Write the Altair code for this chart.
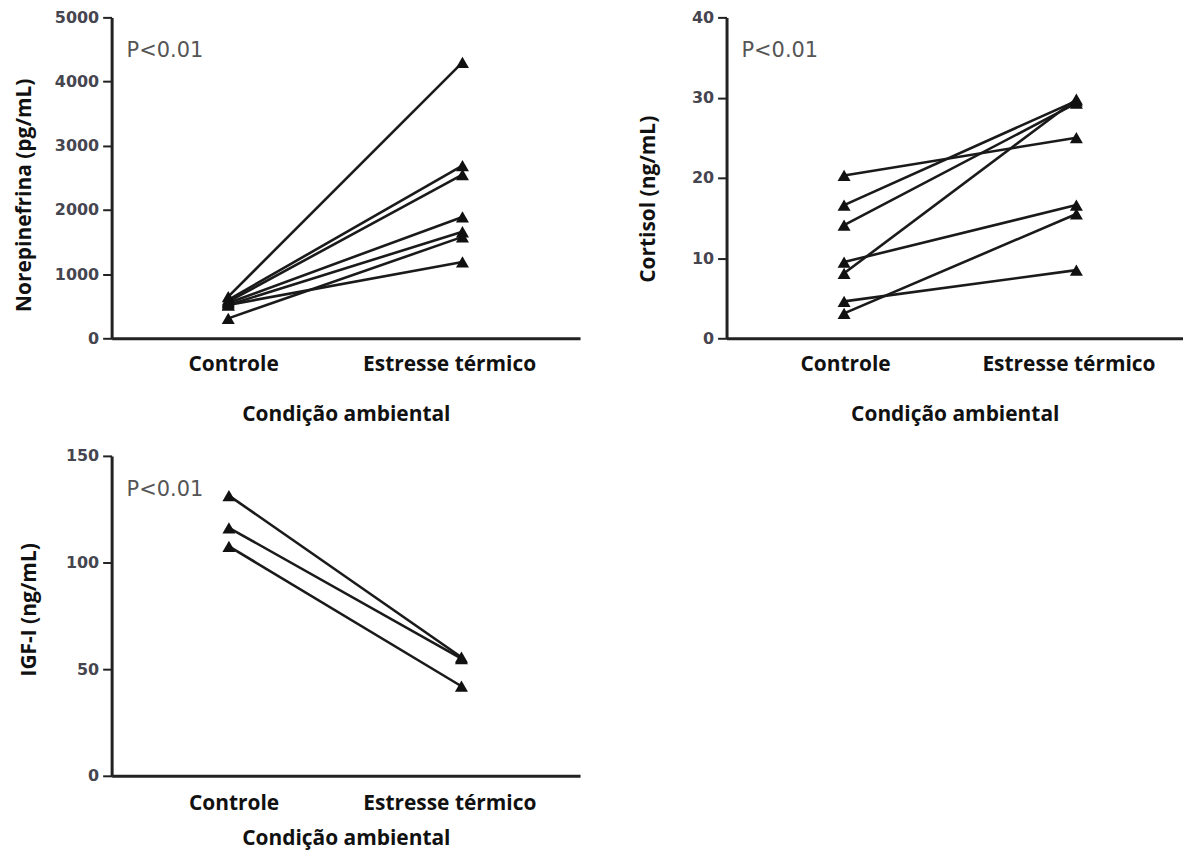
import altair as alt
import pandas as pd

cats = ["Controle", "Estresse térmico"]
x_title = "Condição ambiental"
p_label = ["P<0.01"]

# Norepinefrina (pg/mL), one value per animal
nor_ctrl = [650, 600, 570, 550, 520, 310, 520]
nor_heat = [4300, 2690, 2550, 1890, 1660, 1580, 1190]
nor_ticks = [0, 1000, 2000, 3000, 4000, 5000]

# Cortisol (ng/mL)
cort_ctrl = [20.3, 16.6, 14.1, 9.5, 8.1, 4.6, 3.1]
cort_heat = [25.0, 29.6, 29.3, 16.6, 29.8, 8.5, 15.5]
cort_ticks = [0, 10, 20, 30, 40]

# IGF-I (ng/mL)
igf_ctrl = [131.4, 116.3, 107.6]
igf_heat = [55.6, 55.0, 42.0]
igf_ticks = [0, 50, 100, 150]


def long_df(ctrl, heat):
    rows = []
    for i, (a, b) in enumerate(zip(ctrl, heat)):
        rows.append({"id": i, "cond": cats[0], "pos": 0, "v": a})
        rows.append({"id": i, "cond": cats[1], "pos": 1, "v": b})
    return pd.DataFrame(rows)


label_expr = f"datum.value < 0.5 ? '{cats[0]}' : '{cats[1]}'"


def panel(ctrl, heat, ytitle, ticks, width, height, xdom, xlabvals,
          title_x, title_y, lab_pad, title_pad):
    df = long_df(ctrl, heat)
    x = alt.X(
        "pos:Q",
        scale=alt.Scale(domain=xdom, nice=False, zero=False),
        axis=alt.Axis(
            title=x_title, values=xlabvals, labelExpr=label_expr,
            ticks=False, tickSize=0, grid=False, labelPadding=lab_pad,
            titlePadding=title_pad, labelFont="Open Sans", labelFontWeight="bold",
            labelFontSize=21, labelColor="#111", titleFont="Open Sans",
            titleFontWeight="bold", titleFontSize=21, titleColor="#111",
            domainColor="#222", domainWidth=3, labelFlush=False,
        ),
    )
    y = alt.Y(
        "v:Q",
        scale=alt.Scale(domain=[ticks[0], ticks[-1]], nice=False),
        axis=alt.Axis(
            title=ytitle, values=ticks, format="d", grid=False,
            tickSize=9, tickWidth=2, tickColor="#222", labelPadding=4,
            labelFont="DejaVu Sans", labelFontWeight="bold", labelFontSize=16,
            labelColor="#45454f", titleFont="Open Sans", titleFontWeight="bold",
            titleFontSize=21, titleColor="#111", domainColor="#222",
            domainWidth=3, titleX=title_x, titleY=title_y,
            titleBaseline="middle", titleAngle=270,
        ),
    )
    base = alt.Chart(df)
    lines = base.mark_line(color="#1a1a1a", strokeWidth=2.6).encode(
        x=x, y=y, detail="id:N", order="pos:Q"
    )
    pts = base.mark_point(shape="triangle-up", filled=True, size=170,
                          color="#111", opacity=1).encode(x=x, y=y)
    ptxt = alt.Chart(pd.DataFrame({"t": p_label})).mark_text(
        align="left", baseline="middle", font="DejaVu Sans", fontSize=21,
        color="#555"
    ).encode(x=alt.value(15), y=alt.value(34), text="t:N")
    return alt.layer(lines, pts, ptxt).properties(width=width, height=height)


p1 = panel(nor_ctrl, nor_heat, "Norepinefrina (pg/mL)", nor_ticks, 470, 322,
           [-0.498, 1.502], [0.021, 0.943], -87, 178, 15, 29)
p2 = panel(cort_ctrl, cort_heat, "Cortisol (ng/mL)", cort_ticks, 458, 322,
           [-0.506, 1.459], [0.004, 0.966], -78.5, 182, 15, 29)
p3 = panel(igf_ctrl, igf_heat, "IGF-I (ng/mL)", igf_ticks, 470, 321,
           [-0.5045, 1.510], [0.02, 0.948], -82, 154, 17, 14)

chart = alt.vconcat(
    alt.hconcat(p1, p2, spacing=57),
    p3,
    spacing=24,
).properties(
    padding={"left": 14, "top": 8, "right": 0, "bottom": 0},
    background="white",
).configure_view(stroke=None)

chart.save("out.html", embed_options={"renderer": "svg", "actions": False})
